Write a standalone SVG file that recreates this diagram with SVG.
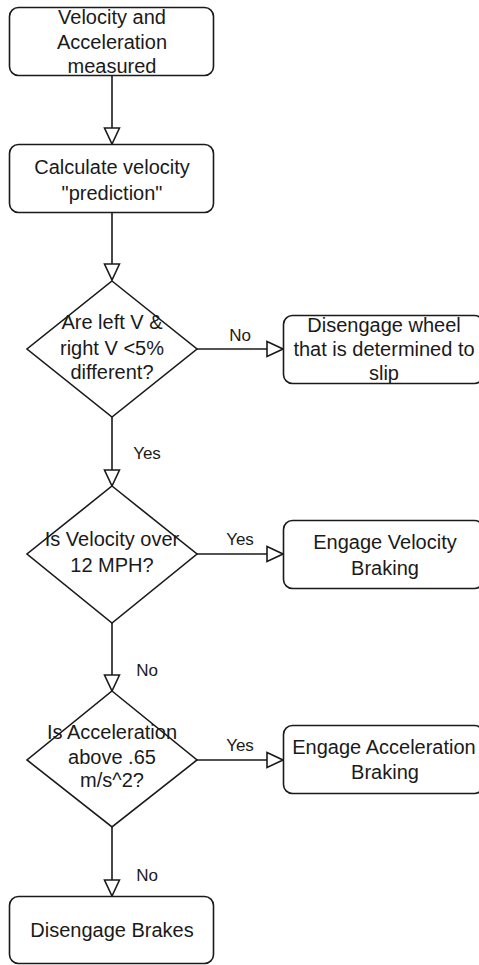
<svg xmlns="http://www.w3.org/2000/svg" width="479" height="965" viewBox="0 0 479 965">
  <style>
    .shape { fill: #ffffff; stroke: #1a1a1a; stroke-width: 1.6; }
    .edge { fill: none; stroke: #1a1a1a; stroke-width: 1.6; }
    .t { font-family: "Liberation Sans", Arial, sans-serif; font-size: 20px; fill: #1a1a1a; text-anchor: middle; }
    .lbl { font-family: "Liberation Sans", Arial, sans-serif; font-size: 17px; fill: #1a1a1a; text-anchor: middle; }
  </style>
  <defs>
    <marker id="open" markerUnits="userSpaceOnUse" markerWidth="18" markerHeight="18" viewBox="0 0 18 18" refX="17" refY="9" orient="auto">
      <path d="M1,1.5 L17,9 L1,16.5 Z" fill="#ffffff" stroke="#1a1a1a" stroke-width="1.6"/>
    </marker>
  </defs>
  <rect width="479" height="965" fill="#ffffff"/>

  <g id="connectors">
    <line class="edge" x1="112" y1="76" x2="112" y2="144" marker-end="url(#open)"/>
    <line class="edge" x1="112" y1="212" x2="112" y2="280" marker-end="url(#open)"/>
    <line class="edge" x1="197" y1="349" x2="283" y2="349" marker-end="url(#open)"/>
    <text class="lbl" x="240" y="341">No</text>
    <line class="edge" x1="112" y1="417" x2="112" y2="486" marker-end="url(#open)"/>
    <text class="lbl" x="147" y="459">Yes</text>
    <line class="edge" x1="197" y1="554" x2="283" y2="554" marker-end="url(#open)"/>
    <text class="lbl" x="240" y="545">Yes</text>
    <line class="edge" x1="112" y1="623" x2="112" y2="691" marker-end="url(#open)"/>
    <text class="lbl" x="147" y="676">No</text>
    <line class="edge" x1="197" y1="760" x2="283" y2="760" marker-end="url(#open)"/>
    <text class="lbl" x="240" y="751">Yes</text>
    <line class="edge" x1="112" y1="827" x2="112" y2="896" marker-end="url(#open)"/>
    <text class="lbl" x="147" y="881">No</text>
  </g>

  <g id="measure">
    <rect class="shape" x="9.5" y="7.5" width="204" height="68" rx="9"/>
    <text class="t" x="112" y="24">Velocity and</text>
    <text class="t" x="112" y="49">Acceleration</text>
    <text class="t" x="112" y="73">measured</text>
  </g>

  <g id="predict">
    <rect class="shape" x="9.5" y="144.5" width="204" height="68" rx="9"/>
    <text class="t" x="112" y="174">Calculate velocity</text>
    <text class="t" x="112" y="200">"prediction"</text>
  </g>

  <g id="slip-check">
    <polygon class="shape" points="112,281 197,349 112,417 27,349"/>
    <text class="t" x="112" y="329">Are left V &amp;</text>
    <text class="t" x="112" y="355">right V &lt;5%</text>
    <text class="t" x="112" y="379">different?</text>
  </g>

  <g id="disengage-wheel">
    <rect class="shape" x="283.5" y="315.5" width="200" height="68" rx="9"/>
    <text class="t" x="384" y="332">Disengage wheel</text>
    <text class="t" x="384" y="356">that is determined to</text>
    <text class="t" x="384" y="380">slip</text>
  </g>

  <g id="speed-check">
    <polygon class="shape" points="112,486 197,554 112,623 27,554"/>
    <text class="t" x="112" y="546">Is Velocity over</text>
    <text class="t" x="112" y="572">12 MPH?</text>
  </g>

  <g id="velocity-braking">
    <rect class="shape" x="283.5" y="520.5" width="200" height="68" rx="9"/>
    <text class="t" x="385" y="549">Engage Velocity</text>
    <text class="t" x="385" y="575">Braking</text>
  </g>

  <g id="accel-check">
    <polygon class="shape" points="112,691 197,760 112,827 27,760"/>
    <text class="t" x="112" y="739">Is Acceleration</text>
    <text class="t" x="112" y="764">above .65</text>
    <text class="t" x="112" y="787">m/s^2?</text>
  </g>

  <g id="accel-braking">
    <rect class="shape" x="283.5" y="725.5" width="200" height="68" rx="9"/>
    <text class="t" x="384" y="754">Engage Acceleration</text>
    <text class="t" x="385" y="779">Braking</text>
  </g>

  <g id="release">
    <rect class="shape" x="9.5" y="896.5" width="204" height="67" rx="9"/>
    <text class="t" x="112" y="937">Disengage Brakes</text>
  </g>
</svg>
